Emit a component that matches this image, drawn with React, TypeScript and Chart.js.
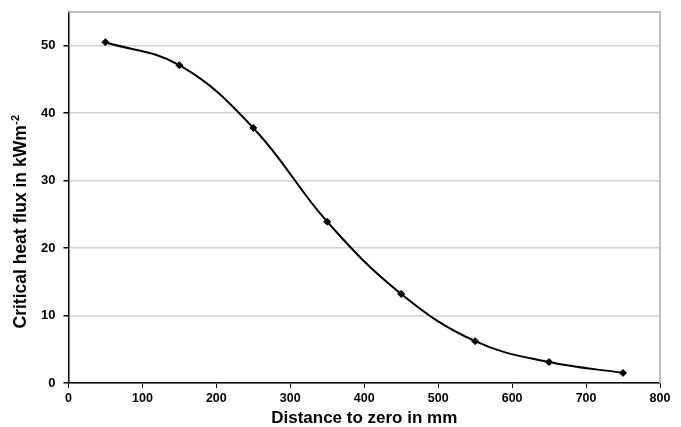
import React, { useEffect, useRef } from "react";
import { Chart, registerables } from "chart.js";

Chart.register(...registerables);

const distances = [50, 150, 250, 350, 450, 550, 650, 750];
const fluxValues = [50.5, 47.1, 37.8, 23.9, 13.2, 6.2, 3.1, 1.5];
const xTickValues = [0, 100, 200, 300, 400, 500, 600, 700, 800];
const yTickValues = [0, 10, 20, 30, 40, 50];
const xTitle = "Distance to zero in mm";
const yTitleMain = "Critical heat flux in kWm";
const yTitleSup = "-2";

const FONT = "Liberation Sans, Arial, sans-serif";

const framePlugin = {
  id: "frameAndTitle",
  afterDraw(chart: any) {
    const { ctx, chartArea } = chart;
    ctx.save();
    ctx.strokeStyle = "#bdbdbd";
    ctx.lineWidth = 2;
    ctx.beginPath();
    ctx.moveTo(chartArea.left, chartArea.top);
    ctx.lineTo(chartArea.right, chartArea.top);
    ctx.lineTo(chartArea.right, chartArea.bottom);
    ctx.stroke();

    // y axis title with real superscript
    ctx.fillStyle = "#000";
    const mainFont = `bold 17.5px ${FONT}`;
    const supFont = `bold 11px ${FONT}`;
    ctx.font = mainFont;
    const wMain = ctx.measureText(yTitleMain).width;
    ctx.font = supFont;
    const wSup = ctx.measureText(yTitleSup).width;
    const total = wMain + wSup;
    const cx = 21;
    const cy = 222;
    ctx.translate(cx, cy);
    ctx.rotate(-Math.PI / 2);
    ctx.textBaseline = "middle";
    ctx.textAlign = "left";
    ctx.font = mainFont;
    ctx.fillText(yTitleMain, -total / 2, 0);
    ctx.font = supFont;
    ctx.fillText(yTitleSup, -total / 2 + wMain + 0.5, -5);
    ctx.restore();
  },
};

export default function App() {
  const ref = useRef<HTMLCanvasElement>(null);
  useEffect(() => {
    document.body.style.margin = "0";
    const chart = new Chart(ref.current!, {
      type: "line",
      data: {
        datasets: [
          {
            data: distances.map((d, i) => ({ x: d, y: fluxValues[i] })),
            borderColor: "#000",
            backgroundColor: "#000",
            borderWidth: 2,
            tension: 0.4,
            pointStyle: "rectRot",
            pointRadius: 3.5,
            pointBorderWidth: 1,
            fill: false,
          },
        ],
      },
      options: {
        animation: false,
        responsive: false,
        layout: { padding: { top: 8, right: 21, left: 33, bottom: 0 } },
        plugins: { legend: { display: false }, tooltip: { enabled: false } },
        scales: {
          x: {
            type: "linear",
            min: 0,
            max: 800,
            afterBuildTicks: (axis: any) => {
              axis.ticks = xTickValues.map((v) => ({ value: v }));
            },
            grid: { display: true, drawOnChartArea: false, color: "#000", tickLength: 5 },
            border: { color: "#000", width: 1.5 },
            ticks: {
              color: "#000",
              font: { family: FONT, size: 12.5, weight: "bold" },
              padding: 3.5,
              maxRotation: 0,
            },
            title: {
              display: true,
              text: xTitle,
              color: "#000",
              font: { family: FONT, size: 17, weight: "bold", lineHeight: 1.0 },
              padding: { top: 0, bottom: 0 },
            },
          },
          y: {
            min: 0,
            max: 55,
            afterBuildTicks: (axis: any) => {
              axis.ticks = yTickValues.map((v) => ({ value: v }));
            },
            grid: { color: "#d0d0d0", lineWidth: 1.5, tickColor: "#000", tickLength: 5 },
            border: { color: "#000", width: 1.5 },
            ticks: {
              color: "#000",
              font: { family: FONT, size: 13, weight: "bold", lineHeight: 0.6 },
              padding: 8,
            },
          },
        },
      },
      plugins: [framePlugin],
    } as any);
    return () => chart.destroy();
  }, []);
  return (
    <div style={{ position: "absolute", left: 0, top: 0, width: 681, height: 427 }}>
      <canvas ref={ref} width={681} height={427} />
    </div>
  );
}
